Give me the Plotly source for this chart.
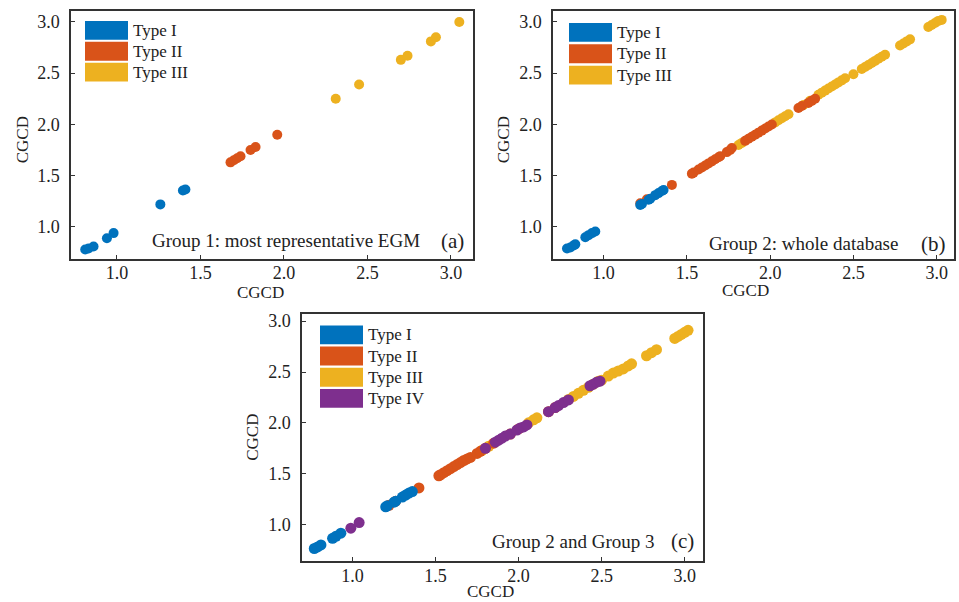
import plotly.graph_objects as go

W, H = 959, 602
FONT = "Liberation Serif, Times New Roman, serif"

type_names = ["Type I", "Type II", "Type III", "Type IV"]
type_colors = ["#0072BD", "#D95319", "#EDB120", "#7E2F8E"]

# ---------------- Panel (a) ----------------
a_I_x = [0.81, 0.83, 0.86, 0.94, 0.98, 1.26, 1.395, 1.41]
a_I_y = [0.78, 0.79, 0.81, 0.89, 0.94, 1.22, 1.355, 1.365]
a_II_x = [1.68, 1.70, 1.72, 1.74, 1.80, 1.83, 1.96]
a_II_y = [1.63, 1.65, 1.67, 1.69, 1.75, 1.78, 1.90]
a_III_x = [2.31, 2.45, 2.70, 2.74, 2.88, 2.91, 3.05]
a_III_y = [2.25, 2.39, 2.63, 2.67, 2.81, 2.85, 3.00]

# ---------------- Panel (b) ----------------
b_I_x = [0.78, 0.80, 0.82, 0.83, 0.89, 0.91, 0.93, 0.95, 1.22, 1.23, 1.27, 1.28, 1.31, 1.33, 1.35, 1.36]
b_I_y = [0.79, 0.80, 0.82, 0.83, 0.90, 0.92, 0.94, 0.955, 1.215, 1.225, 1.265, 1.275, 1.31, 1.33, 1.35, 1.36]
b_II_x = [1.22, 1.26, 1.41, 1.53, 1.54, 1.57, 1.59, 1.61, 1.63, 1.65, 1.67, 1.69, 1.70,
          1.74, 1.76, 1.77, 1.85, 1.87, 1.89, 1.91, 1.93, 1.95, 1.97, 1.99, 2.01,
          2.17, 2.19, 2.23, 2.25, 2.27]
b_II_y = [1.23, 1.27, 1.41, 1.52, 1.53, 1.56, 1.58, 1.60, 1.62, 1.64, 1.66, 1.68, 1.69,
          1.73, 1.75, 1.77, 1.84, 1.86, 1.88, 1.90, 1.92, 1.94, 1.96, 1.98, 2.00,
          2.16, 2.18, 2.21, 2.23, 2.25]
b_III_x = [1.81, 1.83, 2.03, 2.05, 2.07, 2.09, 2.11, 2.20, 2.24, 2.29, 2.31, 2.33, 2.35,
           2.37, 2.39, 2.41, 2.43, 2.45, 2.50, 2.55, 2.57, 2.59, 2.61, 2.63, 2.65, 2.67,
           2.69, 2.78, 2.80, 2.82, 2.84, 2.95, 2.97, 2.99, 3.01, 3.03]
b_III_y = [1.80, 1.82, 2.02, 2.04, 2.06, 2.08, 2.10, 2.19, 2.23, 2.29, 2.31, 2.33, 2.35,
           2.37, 2.39, 2.41, 2.43, 2.45, 2.49, 2.54, 2.56, 2.58, 2.60, 2.62, 2.64, 2.66,
           2.68, 2.77, 2.79, 2.81, 2.83, 2.95, 2.97, 2.99, 3.01, 3.02]

# ---------------- Panel (c) ----------------
c_I_x = [0.77, 0.79, 0.81, 0.88, 0.90, 0.93, 1.20, 1.21, 1.25, 1.26, 1.30, 1.32, 1.34, 1.36]
c_I_y = [0.765, 0.78, 0.80, 0.865, 0.885, 0.915, 1.175, 1.185, 1.22, 1.23, 1.27, 1.29, 1.31, 1.325]
c_II_x = [1.22, 1.26, 1.40, 1.52, 1.53, 1.55, 1.57, 1.59, 1.61, 1.63, 1.65, 1.67, 1.69,
          1.71, 1.75, 1.77, 1.80, 1.85, 1.95, 2.00, 2.18, 2.22]
c_II_y = [1.19, 1.23, 1.36, 1.48, 1.49, 1.51, 1.53, 1.55, 1.57, 1.59, 1.61, 1.63, 1.645,
          1.66, 1.70, 1.72, 1.75, 1.80, 1.89, 1.94, 2.11, 2.15]
c_III_x = [1.78, 1.82, 2.06, 2.09, 2.11, 2.30, 2.33, 2.36, 2.39, 2.42, 2.45, 2.48, 2.50,
           2.54, 2.57, 2.60, 2.63, 2.66, 2.68, 2.77, 2.80, 2.83, 2.94, 2.96, 2.98, 3.00, 3.02]
c_III_y = [1.73, 1.77, 2.00, 2.03, 2.05, 2.23, 2.26, 2.29, 2.32, 2.35, 2.38, 2.41, 2.42,
           2.46, 2.49, 2.51, 2.53, 2.56, 2.58, 2.66, 2.69, 2.72, 2.83, 2.85, 2.87, 2.89, 2.91]
c_IV_x = [0.99, 1.04, 1.80, 1.86, 1.88, 1.90, 1.92, 1.95, 1.99, 2.01, 2.03, 2.05,
          2.18, 2.22, 2.24, 2.27, 2.30, 2.43, 2.45, 2.47, 2.49]
c_IV_y = [0.965, 1.02, 1.75, 1.81, 1.83, 1.85, 1.87, 1.89, 1.93, 1.95, 1.96, 1.98,
          2.11, 2.15, 2.17, 2.20, 2.225, 2.365, 2.38, 2.40, 2.41]

tick_vals = [1.0, 1.5, 2.0, 2.5, 3.0]
tick_text = ["1.0", "1.5", "2.0", "2.5", "3.0"]

panel_labels = ["Group 1: most representative EGM", "Group 2: whole database", "Group 2 and Group 3"]
panel_tags = ["(a)", "(b)", "(c)"]
axis_title = "CGCD"

panels = [
    dict(series=[(2, a_III_x, a_III_y), (1, a_II_x, a_II_y), (0, a_I_x, a_I_y)],
         ntypes=3, px=(71, 473), py=(8, 257), xr=[0.725, 3.132], yr=[0.69, 3.107], msize=10,
         leg=(85, 128, 18, 21, 19), note=(422, 452, 239), xt=(260, 291), yt=(22, 138)),
    dict(series=[(2, b_III_x, b_III_y), (1, b_II_x, b_II_y), (0, b_I_x, b_I_y)],
         ntypes=3, px=(553, 954), py=(8, 257), xr=[0.696, 3.104], yr=[0.69, 3.107], msize=10,
         leg=(569, 612, 20, 21.5, 19), note=(900, 933, 242), xt=(745, 289), yt=(503, 138)),
    dict(series=[(2, c_III_x, c_III_y), (1, c_II_x, c_II_y), (0, c_I_x, c_I_y), (3, c_IV_x, c_IV_y)],
         ntypes=4, px=(302, 703), py=(313, 561), xr=[0.696, 3.11], yr=[0.64, 3.066], msize=11,
         leg=(320, 363, 324, 21.3, 19), note=(657, 682, 541), xt=(490, 591), yt=(253, 437)),
]

fig = go.Figure()
shapes = []
annotations = []

def fx(p):
    return p / W

def fy(p):
    return 1 - p / H

for i, p in enumerate(panels):
    sfx = "" if i == 0 else str(i + 1)
    xa, ya = "x" + sfx, "y" + sfx
    for t, xs, ys in p["series"]:
        fig.add_trace(go.Scatter(
            x=xs, y=ys, mode="markers", xaxis=xa, yaxis=ya, showlegend=False,
            name=type_names[t],
            marker=dict(color=type_colors[t], size=p["msize"], line=dict(width=0)),
        ))
    axis_common = dict(
        tickvals=tick_vals, ticktext=tick_text, ticks="inside", ticklen=4, tickwidth=1,
        tickcolor="#333", showline=True, linecolor="#333", linewidth=1.5, mirror=True,
        showgrid=False, zeroline=False,
        tickfont=dict(family=FONT, size=18, color="#222"),
    )
    fig.layout["xaxis" + sfx] = dict(
        domain=[fx(p["px"][0]), fx(p["px"][1])], range=p["xr"], anchor=ya,
        ticklabelstandoff=-3, **axis_common)
    fig.layout["yaxis" + sfx] = dict(
        domain=[fy(p["py"][1]), fy(p["py"][0])], range=p["yr"], anchor=xa,
        ticklabelstandoff=6, **axis_common)

    # legend swatches (manual, large rectangles)
    lx0, lx1, ly0, step, hgt = p["leg"]
    for k in range(p["ntypes"]):
        top = ly0 + k * step
        shapes.append(dict(type="rect", xref="paper", yref="paper",
                           x0=fx(lx0), x1=fx(lx1), y0=fy(top + hgt), y1=fy(top),
                           fillcolor=type_colors[k], line=dict(width=0)))
        annotations.append(dict(text=type_names[k], xref="paper", yref="paper",
                                x=fx(lx1 + 3), y=fy(top + hgt / 2), xanchor="left",
                                yanchor="middle", showarrow=False,
                                font=dict(family=FONT, size=17, color="#222")))
    # panel notes
    nr, tagx, ny = p["note"]
    annotations.append(dict(text=panel_labels[i], xref="paper", yref="paper",
                            x=fx(nr), y=fy(ny), xanchor="right", yanchor="middle",
                            showarrow=False, font=dict(family=FONT, size=19, color="#222")))
    annotations.append(dict(text=panel_tags[i], xref="paper", yref="paper",
                            x=fx(tagx), y=fy(ny), xanchor="center", yanchor="middle",
                            showarrow=False, font=dict(family=FONT, size=21, color="#222")))
    # axis titles
    annotations.append(dict(text=axis_title, xref="paper", yref="paper",
                            x=fx(p["xt"][0]), y=fy(p["xt"][1]), xanchor="center",
                            yanchor="middle", showarrow=False,
                            font=dict(family=FONT, size=17, color="#222")))
    annotations.append(dict(text=axis_title, xref="paper", yref="paper",
                            x=fx(p["yt"][0]), y=fy(p["yt"][1]), xanchor="center",
                            yanchor="middle", showarrow=False, textangle=-90,
                            font=dict(family=FONT, size=17, color="#222")))

fig.update_layout(
    width=W, height=H, margin=dict(l=0, r=0, t=0, b=0),
    paper_bgcolor="white", plot_bgcolor="white",
    shapes=shapes, annotations=annotations, showlegend=False,
)

fig.write_html("out.html")
